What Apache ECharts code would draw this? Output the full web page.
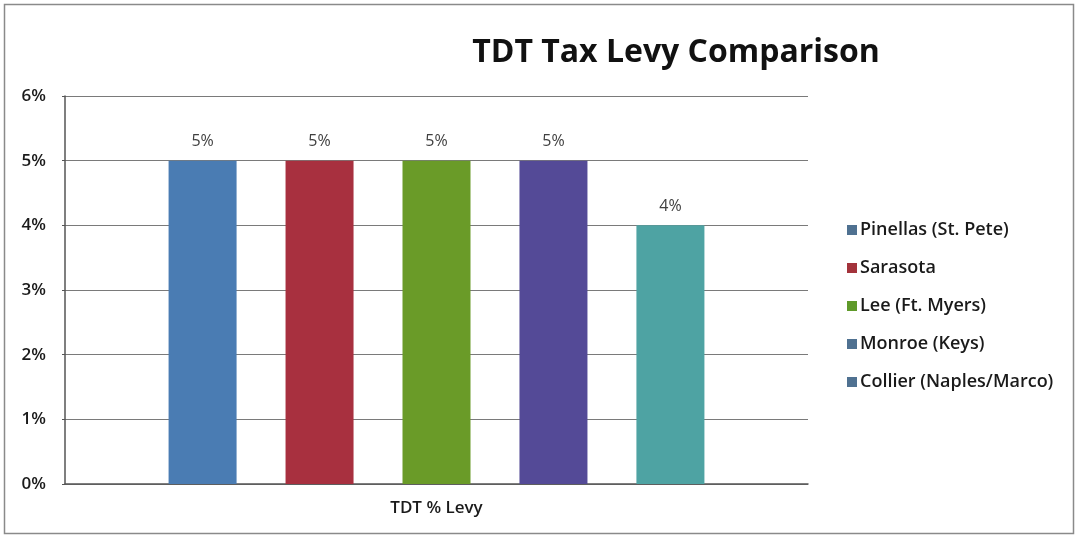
<!DOCTYPE html>
<html>
<head>
<meta charset="utf-8">
<script src="https://cdn.jsdelivr.net/npm/echarts@6/dist/echarts.min.js"></script>
<style>
  html, body { margin: 0; padding: 0; background: #fff; }
  #chart { width: 1078px; height: 538px; }
</style>
</head>
<body>
<div id="chart"></div>
<script>
// Tourist Development Tax rates by county
const categories = ['TDT % Levy'];
const counties = ['Pinellas (St. Pete)', 'Sarasota', 'Lee (Ft. Myers)', 'Monroe (Keys)', 'Collier (Naples/Marco)'];
const levyPercent = [5, 5, 5, 5, 4];
const barColors = ['#4a7cb3', '#a8303f', '#6a9b28', '#544a97', '#4ea3a3'];
const legendColors = ['#4f7191', '#a3333b', '#5f9a2a', '#4f7191', '#4f7191'];
const yTicks = [0, 1, 2, 3, 4, 5, 6];

const chart = echarts.init(document.getElementById('chart'));

const series = counties.map((name, i) => ({
  name: name,
  type: 'bar',
  data: [levyPercent[i]],
  barWidth: 68,
  barGap: '72%',
  itemStyle: { color: barColors[i] },
  label: {
    show: true,
    position: 'top',
    distance: 11,
    formatter: p => p.value + '%',
    color: '#404040',
    fontFamily: 'Open Sans',
    fontSize: 16
  }
}));

chart.setOption({
  animation: false,
  backgroundColor: '#ffffff',
  title: {
    text: 'TDT Tax Levy Comparison',
    left: 671,
    textAlign: 'center',
    top: 32,
    textStyle: {
      fontFamily: 'Open Sans',
      fontWeight: 'bold',
      fontSize: 32,
      color: '#111111'
    }
  },
  legend: {
    orient: 'vertical',
    left: 842,
    top: 216,
    itemWidth: 10,
    itemHeight: 10,
    itemGap: 20,
    icon: 'rect',
    textStyle: {
      fontFamily: 'Open Sans',
      fontSize: 18,
      fontWeight: 600,
      color: '#1a1a1a',
      padding: [0, 0, 0, -2]
    },
    data: counties.map((name, i) => ({ name: name, itemStyle: { color: legendColors[i] } }))
  },
  grid: { left: 65, right: 270, top: 96, bottom: 54 },
  xAxis: {
    type: 'category',
    data: categories,
    axisLine: { show: true, lineStyle: { color: '#555555', width: 1.5 } },
    axisTick: { show: false },
    axisLabel: {
      margin: 16,
      fontFamily: 'Open Sans',
      fontSize: 17,
      fontWeight: 600,
      color: '#1a1a1a'
    }
  },
  yAxis: {
    type: 'value',
    min: yTicks[0],
    max: yTicks[yTicks.length - 1],
    interval: 1,
    axisLine: { show: true, lineStyle: { color: '#555555', width: 1.5 } },
    axisTick: { show: true, length: 3, lineStyle: { color: '#555555' } },
    axisLabel: {
      margin: 19,
      formatter: v => v + '%',
      fontFamily: 'Open Sans',
      fontSize: 17,
      fontWeight: 600,
      color: '#1a1a1a'
    },
    splitLine: { show: true, lineStyle: { color: '#7a7a7a', width: 1.2 } }
  },
  graphic: [{
    type: 'rect',
    shape: { x: 4.5, y: 4.5, width: 1069, height: 529 },
    style: { fill: 'none', stroke: '#8a8a8a', lineWidth: 1.5 },
    silent: true
  }],
  series: series
});
</script>
</body>
</html>
